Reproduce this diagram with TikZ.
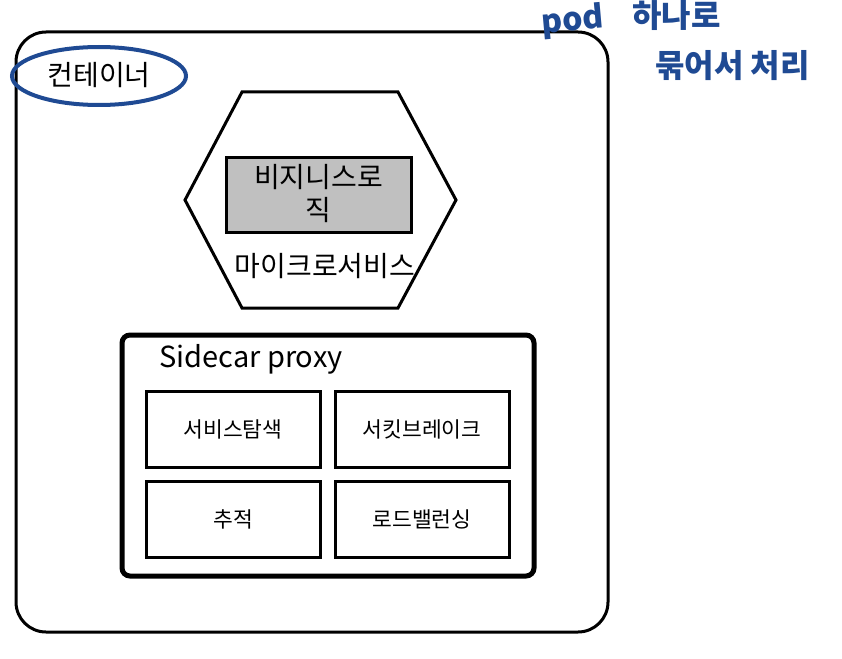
\documentclass[tikz,border=0pt]{standalone}
\usepackage{fontspec}
\usetikzlibrary{shapes.geometric}
\setmainfont{Noto Sans CJK KR}
\newfontfamily\hand{Noto Sans CJK KR}
\definecolor{penblue}{HTML}{1F4A93}
\definecolor{logicgray}{HTML}{C0C0C0}
\begin{document}
\begin{tikzpicture}[x=1pt,y=-1pt,
  thickline/.style={draw=black,line width=3pt},
  boxtext/.style={font=\fontsize{28}{32}\selectfont,inner sep=0pt},
  smalltext/.style={font=\fontsize{21.5}{25}\selectfont},
  featbox/.style={thickline,minimum width=174pt,minimum height=76pt,inner sep=0pt,smalltext},
  handtext/.style={text=penblue,font=\hand\bfseries\fontsize{32}{36}\selectfont,inner sep=0pt}]
\useasboundingbox (0,0) rectangle (842,658);
% outer container
\draw[thickline,rounded corners=30pt] (16,32) rectangle (608,632);
\node[draw=penblue,line width=4pt,ellipse,minimum width=174pt,minimum height=58pt,inner sep=0pt] (contlabel) at (99,76) {};
\node[boxtext] (conttext) at (99,75) {컨테이너};
% hexagon microservice
\draw[thickline,line join=miter] (185,200) -- (242,92) -- (398,92) -- (456,200) -- (398,308) -- (242,308) -- cycle;
\node[thickline,fill=logicgray,minimum width=185pt,minimum height=75pt,inner sep=0pt] (logic) at (318.5,194.5) {};
\node[boxtext,align=center,font=\fontsize{28}{33}\selectfont] (logictext) at (318.5,194) {비지니스로\\직};
\node[boxtext] (ms) at (325,266) {마이크로서비스};
% sidecar
\draw[draw=black,line width=5pt,rounded corners=8pt] (122,335) rectangle (534,576);
\node[boxtext,anchor=west,font=\fontsize{29}{33}\selectfont] (sidecar) at (159,359) {Sidecar proxy};
\node[featbox] (disc) at (233,429) {서비스탐색};
\node[featbox] (cb) at (422,429) {서킷브레이크};
\node[featbox] (trace) at (233,519) {추적};
\node[featbox] (lb) at (422,519) {로드밸런싱};
% handwritten note
\node[handtext,anchor=west,rotate=5] (pod) at (541,24) {pod};
\node[handtext,anchor=west] (pod2) at (632,16) {하나로};
\node[handtext,anchor=west] (pod3) at (655,66) {묶어서 처리};
\end{tikzpicture}
\end{document}
